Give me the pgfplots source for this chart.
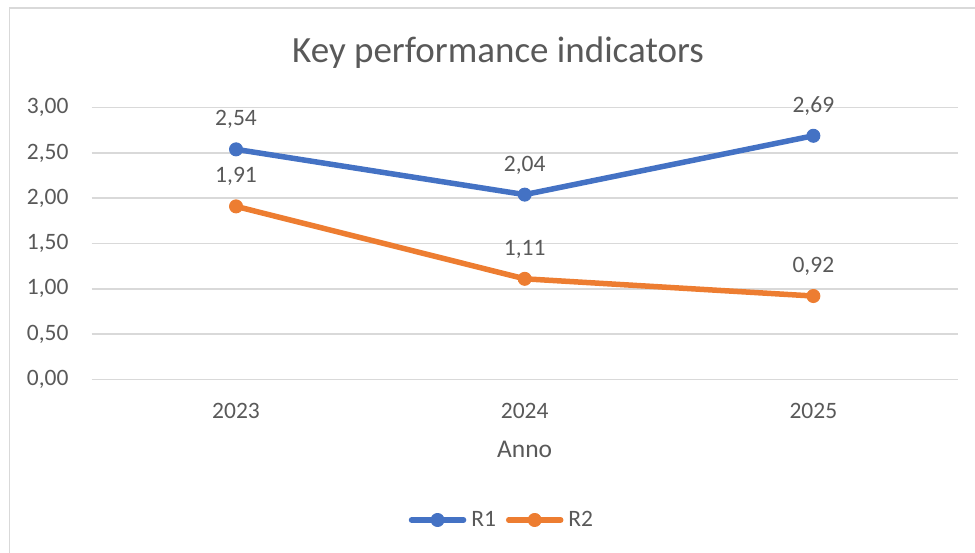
\documentclass[border=0pt]{standalone}
\usepackage{pgfplots}
\pgfplotsset{compat=1.18}
\usepackage{fontspec}
\setmainfont{Carlito}
\definecolor{cblue}{HTML}{4472C4}
\definecolor{corange}{HTML}{ED7D31}
\definecolor{ctext}{HTML}{595959}
\definecolor{cgrid}{HTML}{D9D9D9}
\pgfkeys{/pgf/number format/.cd, fixed, fixed zerofill, precision=2, use comma, 1000 sep={}, assume math mode=true}
\newcommand{\lblfont}{\fontsize{23.5}{28}\selectfont}
\begin{document}
\begin{tikzpicture}[x=1pt,y=1pt]
\path[use as bounding box] (0,0) rectangle (975,-552);
\draw[cgrid, line width=1.5pt] (9.5,-1000) -- (9.5,-8) -- (1000,-8);
\begin{axis}[
  at={(91.7pt,-379.3pt)}, anchor=south west,
  scale only axis, width=866pt, height=271.6pt,
  xmin=-0.5, xmax=2.5, ymin=0, ymax=3,
  xtick={0,1,2}, xticklabels={2023,2024,2025},
  ytick={0,0.5,1,1.5,2,2.5,3},
  axis line style={draw=none}, major tick length=0pt,
  ymajorgrids, grid style={cgrid, line width=1.5pt},
  tick label style={font=\lblfont, text=ctext},
  yticklabel style={anchor=east, inner sep=0pt, xshift=-23pt},
  xticklabel style={anchor=base, inner sep=0pt, yshift=-38.7pt},
  xlabel={Anno},
  xlabel style={at={(axis description cs:0.5,0)}, anchor=base, inner sep=0pt, yshift=-78pt, font=\fontsize{25.5}{30}\selectfont, text=ctext},
  legend columns=2,
  legend style={at={(0.4726,-0.518)}, anchor=center, draw=none, fill=none, font=\lblfont, text=ctext,
    nodes={inner sep=0pt},
    /tikz/every odd column/.append style={column sep=5pt},
    /tikz/every even column/.append style={column sep=10pt}},
  legend image code/.code={\draw[mark repeat=2,mark phase=2,#1] plot coordinates {(0pt,0pt) (26pt,0pt) (52pt,0pt)};},
  nodes near coords,
  nodes near coords style={anchor=base, inner sep=0pt, yshift=23.5pt, font=\lblfont, text=ctext},
  clip=false,
]
\addplot[cblue, line width=5.5pt, line cap=round, line join=round, mark=*, mark size=6.5pt, mark options={solid, line width=1pt, fill=cblue}]
  coordinates {(0,2.54) (1,2.04) (2,2.69)};
\addlegendentry{R1}
\addplot[corange, line width=5.5pt, line cap=round, line join=round, mark=*, mark size=6.5pt, mark options={solid, line width=1pt, fill=corange}]
  coordinates {(0,1.91) (1,1.11) (2,0.92)};
\addlegendentry{R2}
\end{axis}
\node[anchor=base, inner sep=0pt, font=\fontsize{37}{44}\selectfont, text=ctext] at (498,-62) {Key performance indicators};
\end{tikzpicture}
\end{document}
